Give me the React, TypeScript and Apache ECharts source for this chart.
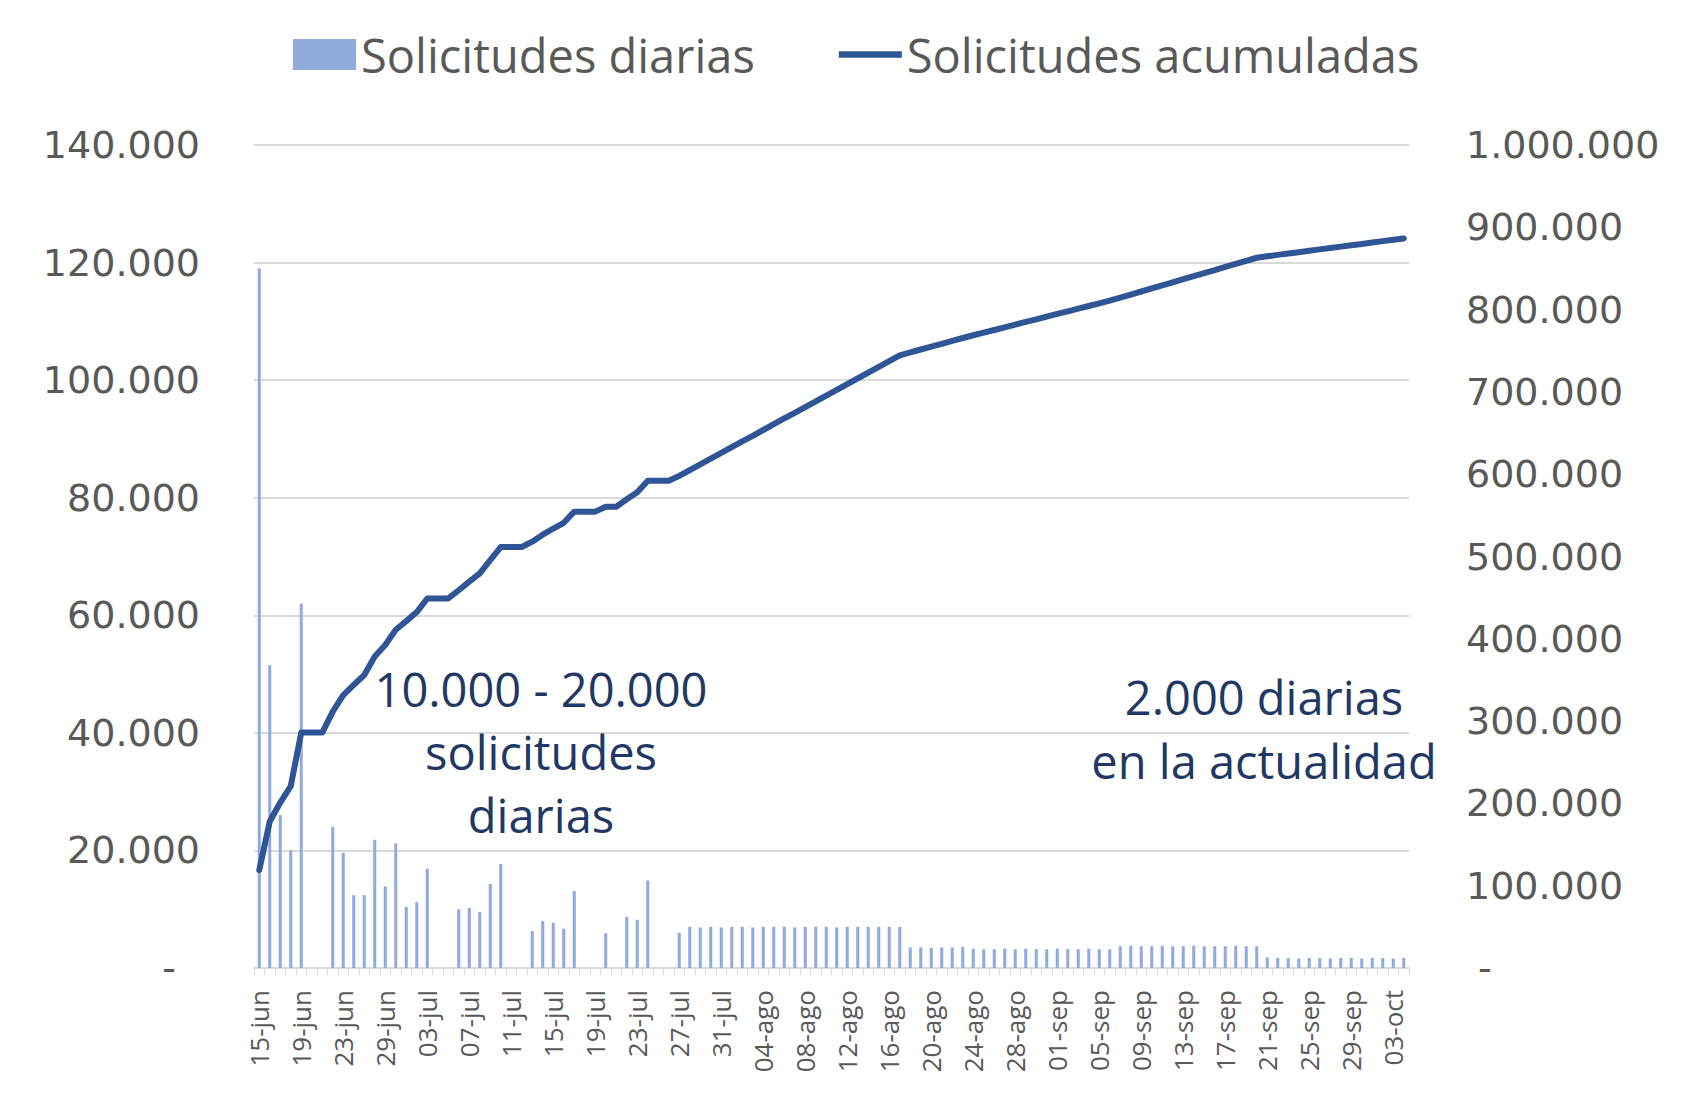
import React, { useEffect, useRef } from "react";
import * as echarts from "echarts";

// ---- categories (27-jun and 28-jun are not in the source axis) ----
const JUN_DAYS = [15, 16, 17, 18, 19, 20, 21, 22, 23, 24, 25, 26, 29, 30];
const JUL_DAYS = 31;
const AGO_DAYS = 31;
const SEP_DAYS = 30;
const OCT_DAYS = 4;
const pad = (d: number) => (d < 10 ? "0" + d : "" + d);
const seq = (n: number) => Array.from({ length: n }, (_, i) => i + 1);
const CATEGORIES: string[] = [
  ...JUN_DAYS.map((d) => pad(d) + "-jun"),
  ...seq(JUL_DAYS).map((d) => pad(d) + "-jul"),
  ...seq(AGO_DAYS).map((d) => pad(d) + "-ago"),
  ...seq(SEP_DAYS).map((d) => pad(d) + "-sep"),
  ...seq(OCT_DAYS).map((d) => pad(d) + "-oct"),
];

// ---- daily requests (left axis) ----
const DAILY = [
  119000, 51500, 26000, 20000, 62000, 0, 0, 24000, 19600, 12400,
  12400, 21800, 13900, 21200, 10400, 11200, 16900, 0, 0, 10000,
  10200, 9500, 14300, 17700, 0, 0, 6300, 8000, 7700, 6700,
  13100, 0, 0, 5900, 0, 8700, 8200, 14900, 0, 0,
  6000, 7000,
  6900, 7000, 6900, 7000, 7000, 6900, 7000, 7000, 7000, 6900,
  7000, 7000, 7000, 6900, 7000, 7000, 7000, 7000, 7000, 7000,
  3500, 3500, 3400, 3500, 3500, 3600, 3300, 3200, 3200, 3300,
  3200, 3300, 3200, 3200, 3300, 3200, 3200, 3300, 3200, 3200,
  3700, 3800, 3700, 3700, 3800, 3700, 3700, 3800, 3700, 3700,
  3700, 3800, 3700, 3700,
  1800, 1700, 1700, 1600, 1700, 1700, 1600, 1700, 1700, 1600,
  1700, 1700, 1600, 1700,
];

// ---- cumulative requests (right axis) ----
const CUMULATIVE = [
  119000, 178000, 201000, 221000, 286000, 286000, 286000, 311500, 331500, 344000,
  356000, 378500, 392500, 411000, 421500, 432500, 449000, 449000, 449000, 459000,
  469500, 479500, 495500, 511500, 511500, 511500, 518000, 526500, 534000, 541000,
  554500, 554500, 554500, 560500, 560500, 569500, 578000, 592000, 592000, 592000,
  598000, 605000,
  611900, 618900, 625800, 632800, 639800, 646700, 653700, 660700, 667700, 674600,
  681600, 688600, 695600, 702500, 709500, 716500, 723500, 730500, 737500, 744500,
  748000, 751500, 754900, 758400, 761900, 765500, 768800, 772000, 775200, 778500,
  781700, 785000, 788200, 791400, 794700, 797900, 801100, 804400, 807600, 810800,
  814500, 818300, 822000, 825700, 829500, 833200, 836900, 840700, 844400, 848100,
  851800, 855600, 859300, 863000,
  864800, 866500, 868200, 869800, 871500, 873200, 874800, 876500, 878200, 879800,
  881500, 883200, 884800, 886500,
];

const SERIES_NAMES = ["Solicitudes diarias", "Solicitudes acumuladas"];
const NOTE_LEFT = "10.000 - 20.000\nsolicitudes\ndiarias";
const NOTE_RIGHT = "2.000 diarias\nen la actualidad";

const fmt = (v: number) =>
  String(Math.round(v)).replace(/\B(?=(\d{3})+(?!\d))/g, ".");

export default function App() {
  const ref = useRef<HTMLDivElement>(null);

  useEffect(() => {
    if (!ref.current) return;
    const chart = echarts.init(ref.current, undefined, { renderer: "svg" });
    const grey = "#595959";
    const gridColor = "#d9d9d9";
    const lineBlue = "#2f5597";
    chart.setOption({
      animation: false,
      backgroundColor: "#ffffff",
      legend: {
        left: 288,
        top: 26,
        itemWidth: 63,
        itemHeight: 31,
        itemGap: 84,
        textStyle: { fontFamily: "Open Sans", fontSize: 47, color: grey },
        data: [
          { name: SERIES_NAMES[0], icon: "rect" },
          { name: SERIES_NAMES[1], icon: "path://M0,0H60V6H0Z", itemStyle: { color: lineBlue } },
        ],
      },
      grid: { left: 254, right: 297, top: 145, bottom: 127 },
      xAxis: {
        type: "category",
        data: CATEGORIES,
        axisLine: { lineStyle: { color: gridColor, width: 2 } },
        axisTick: { show: true, interval: 0, length: 7, lineStyle: { color: gridColor } },
        axisLabel: {
          interval: 3,
          rotate: 90,
          margin: 22,
          fontFamily: "Open Sans",
          fontSize: 26,
          color: grey,
        },
      },
      yAxis: [
        {
          type: "value",
          min: 0,
          max: 140000,
          interval: 20000,
          axisLine: { show: false },
          axisTick: { show: false },
          splitLine: { lineStyle: { color: gridColor, width: 2 } },
          axisLabel: {
            margin: 54,
            fontFamily: "DejaVu Sans",
            fontSize: 38,
            color: grey,
            formatter: (v: number) => (v === 0 ? "-  " : fmt(v)),
          },
        },
        {
          type: "value",
          min: 0,
          max: 1000000,
          interval: 100000,
          axisLine: { show: false },
          axisTick: { show: false },
          splitLine: { show: false },
          axisLabel: {
            margin: 57,
            fontFamily: "DejaVu Sans",
            fontSize: 38,
            color: grey,
            formatter: (v: number) => (v === 0 ? " -" : fmt(v)),
          },
        },
      ],
      series: [
        {
          name: SERIES_NAMES[0],
          type: "bar",
          yAxisIndex: 0,
          data: DAILY,
          barWidth: 3,
          itemStyle: { color: "#8faadc" },
          z: 1,
        },
        {
          name: SERIES_NAMES[1],
          type: "line",
          yAxisIndex: 1,
          data: CUMULATIVE,
          symbol: "none",
          showSymbol: false,
          lineStyle: { color: lineBlue, width: 6, cap: "round", join: "round" },
          itemStyle: { color: lineBlue },
          z: 3,
        },
      ],
      graphic: [
        {
          type: "text",
          x: 541,
          y: 752,
          z: 10,
          style: {
            text: NOTE_LEFT,
            align: "center",
            verticalAlign: "middle",
            fontFamily: "Open Sans",
            fontSize: 47,
            lineHeight: 63,
            fill: "#1f3864",
          },
        },
        {
          type: "text",
          x: 1264,
          y: 729,
          z: 10,
          style: {
            text: NOTE_RIGHT,
            align: "center",
            verticalAlign: "middle",
            fontFamily: "Open Sans",
            fontSize: 47,
            lineHeight: 64,
            fill: "#1f3864",
          },
        },
      ],
    });
    return () => chart.dispose();
  }, []);

  return (
    <div
      ref={ref}
      style={{ position: "fixed", left: 0, top: 0, width: 1706, height: 1095, background: "#fff" }}
    />
  );
}
